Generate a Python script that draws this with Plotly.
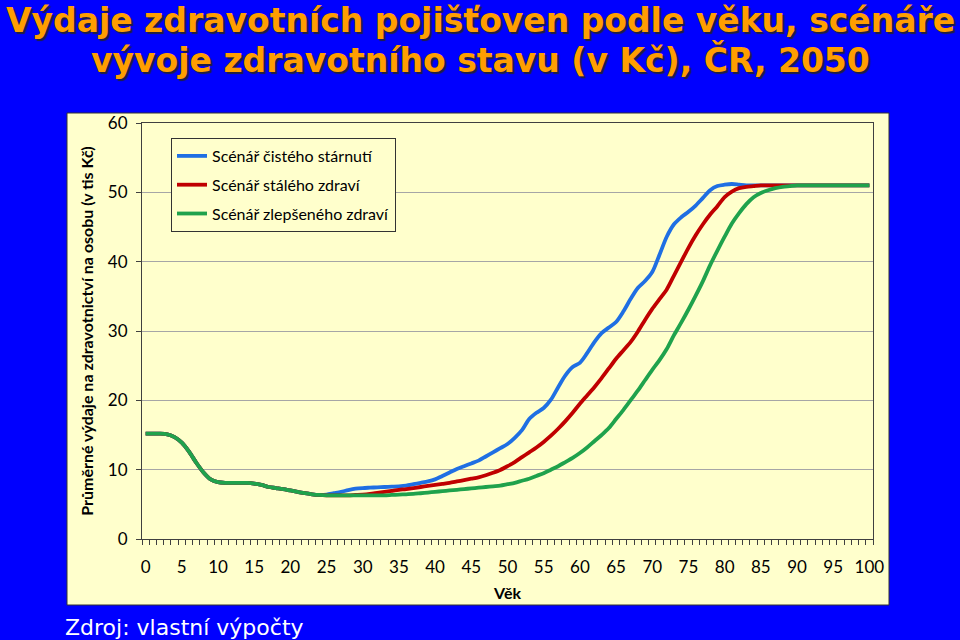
import plotly.graph_objects as go

ages = list(range(0, 101))

# common part (ages 0-24), all three scenarios coincide
common_0_24 = [15.2, 15.2, 15.2, 15.1, 14.7, 13.9, 12.6, 11.0, 9.6, 8.6,
               8.2, 8.1, 8.1, 8.1, 8.1, 8.0, 7.8, 7.5, 7.35, 7.2,
               7.0, 6.8, 6.6, 6.45, 6.35]

blue_25_100 = [6.4, 6.6, 6.8, 7.05, 7.25, 7.35, 7.4, 7.45, 7.5, 7.55,
               7.6, 7.7, 7.9, 8.1, 8.3, 8.6, 9.1, 9.6, 10.1, 10.5,
               10.9, 11.3, 11.9, 12.5, 13.1, 13.7, 14.6, 15.7, 17.3, 18.2,
               18.9, 20.1, 21.9, 23.6, 24.8, 25.4, 26.8, 28.4, 29.7, 30.5,
               31.3, 32.8, 34.6, 36.2, 37.2, 38.5, 41.0, 43.6, 45.4, 46.4,
               47.2, 48.1, 49.2, 50.3, 50.9, 51.1, 51.2, 51.1, 51.0, 51.0,
               51.0, 51.0, 51.0, 51.0, 51.0, 51.0, 51.0, 51.0, 51.0, 51.0,
               51.0, 51.0, 51.0, 51.0, 51.0, 51.0]

red_25_100 = [6.3, 6.3, 6.3, 6.3, 6.35, 6.4, 6.5, 6.65, 6.8, 6.95,
              7.1, 7.2, 7.35, 7.5, 7.65, 7.8, 7.95, 8.1, 8.3, 8.5,
              8.7, 8.9, 9.2, 9.55, 9.95, 10.5, 11.1, 11.8, 12.5, 13.2,
              14.0, 14.9, 15.9, 17.0, 18.2, 19.5, 20.7, 21.9, 23.2, 24.6,
              26.0, 27.2, 28.4, 29.9, 31.6, 33.2, 34.6, 36.0, 38.0, 40.0,
              42.0, 43.8, 45.4, 46.8, 48.0, 49.3, 50.1, 50.6, 50.8, 50.9,
              51.0, 51.0, 51.0, 51.0, 51.0, 51.0, 51.0, 51.0, 51.0, 51.0,
              51.0, 51.0, 51.0, 51.0, 51.0, 51.0]

green_25_100 = [6.3, 6.3, 6.3, 6.3, 6.3, 6.3, 6.3, 6.3, 6.3, 6.35,
                6.4, 6.45, 6.5, 6.6, 6.7, 6.8, 6.9, 7.0, 7.1, 7.2,
                7.3, 7.4, 7.5, 7.6, 7.7, 7.9, 8.1, 8.4, 8.7, 9.1,
                9.5, 10.0, 10.5, 11.1, 11.7, 12.4, 13.2, 14.1, 15.0, 16.0,
                17.3, 18.6, 20.0, 21.4, 22.9, 24.4, 25.8, 27.4, 29.4, 31.2,
                33.1, 35.1, 37.2, 39.5, 41.6, 43.6, 45.5, 47.0, 48.3, 49.3,
                49.9, 50.3, 50.6, 50.8, 50.9, 51.0, 51.0, 51.0, 51.0, 51.0,
                51.0, 51.0, 51.0, 51.0, 51.0, 51.0]

series_names = ["Scénář čistého stárnutí", "Scénář stálého zdraví", "Scénář zlepšeného zdraví"]
series_values = [common_0_24 + blue_25_100, common_0_24 + red_25_100, common_0_24 + green_25_100]
series_colors = ["#1f6fe3", "#c00000", "#1fa24c"]

x_tick_vals = list(range(0, 101, 5))
x_tick_text = [str(v) for v in x_tick_vals]
y_tick_vals = list(range(0, 61, 10))

title_lines = ["Výdaje zdravotních pojišťoven podle věku, scénáře",
               "vývoje zdravotního stavu (v Kč), ČR, 2050"]
y_title = "Průměrné výdaje na zdravotnictví na osobu (v tis Kč)"
x_title = "Věk"
source_text = "Zdroj: vlastní výpočty"

fig = go.Figure()
for name, vals, col in zip(series_names, series_values, series_colors):
    fig.add_trace(go.Scatter(
        x=ages, y=vals, name=name, mode="lines",
        line=dict(color=col, width=3.8, shape="spline", smoothing=0.8),
        legendgroup=name,
    ))

# plot area geometry in pixels
L, R, T, B = 142, 873, 123, 539
W, H = 960, 640
pw, ph = R - L, B - T

def px_x(x):
    return (x - L) / pw

def px_y(y):
    return (B - y) / ph

fig.add_shape(type="rect", xref="paper", yref="paper",
              x0=px_x(67), x1=px_x(889), y0=px_y(605), y1=px_y(113),
              fillcolor="#ffffcc", line=dict(color="#333333", width=1), layer="below")

for line_text, cy in zip(title_lines, [20, 60]):
    fig.add_annotation(text=line_text, xref="paper", yref="paper",
                       x=px_x(480), y=px_y(cy), xanchor="center", yanchor="middle",
                       showarrow=False,
                       font=dict(family="DejaVu Sans", size=33, color="#ff9e00", weight="bold",
                                 shadow="2px 2px 1px #202040"))

fig.add_annotation(text=source_text, xref="paper", yref="paper",
                   x=px_x(63), y=px_y(627), xanchor="left", yanchor="middle",
                   showarrow=False,
                   font=dict(family="DejaVu Sans", size=22, color="white"))

fig.update_layout(
    width=W, height=H,
    margin=dict(l=L, r=W - R, t=T, b=H - B),
    paper_bgcolor="#0000ff",
    plot_bgcolor="#ffffcc",
    font=dict(family="Lato", color="black"),
    legend=dict(x=px_x(171), y=px_y(138), xanchor="left", yanchor="top",
                bgcolor="#ffffcc", bordercolor="#333333", borderwidth=1,
                font=dict(family="Lato", size=16, color="black"),
                traceorder="grouped", tracegroupgap=5),
    showlegend=True,
    xaxis=dict(range=[-0.5, 100.5], tickmode="array", tickvals=x_tick_vals, ticktext=x_tick_text,
               ticks="", showgrid=False, zeroline=False,
               showline=True, linecolor="#404040", linewidth=1, mirror=True,
               tickfont=dict(family="Lato", size=17, color="black"),
               ticklabelstandoff=13,
               minor=dict(ticks="outside", tick0=-0.5, dtick=1, ticklen=5, tickcolor="#404040",
                          showgrid=False),
               title=dict(text="<b>" + x_title + "</b>", standoff=11,
                          font=dict(family="Lato", size=16, color="black"))),
    yaxis=dict(range=[0, 60], tickmode="array", tickvals=y_tick_vals,
               ticks="outside", ticklen=5, tickcolor="#404040",
               showgrid=True, gridcolor="#a6a6a6", gridwidth=1, zeroline=False,
               showline=True, linecolor="#404040", linewidth=1, mirror=True,
               tickfont=dict(family="Lato", size=17, color="black"),
               ticklabelstandoff=5,
               title=dict(text="<b>" + y_title + "</b>", standoff=10,
                          font=dict(family="Lato", size=16, color="black"))),
)

fig.write_html("out.html")
